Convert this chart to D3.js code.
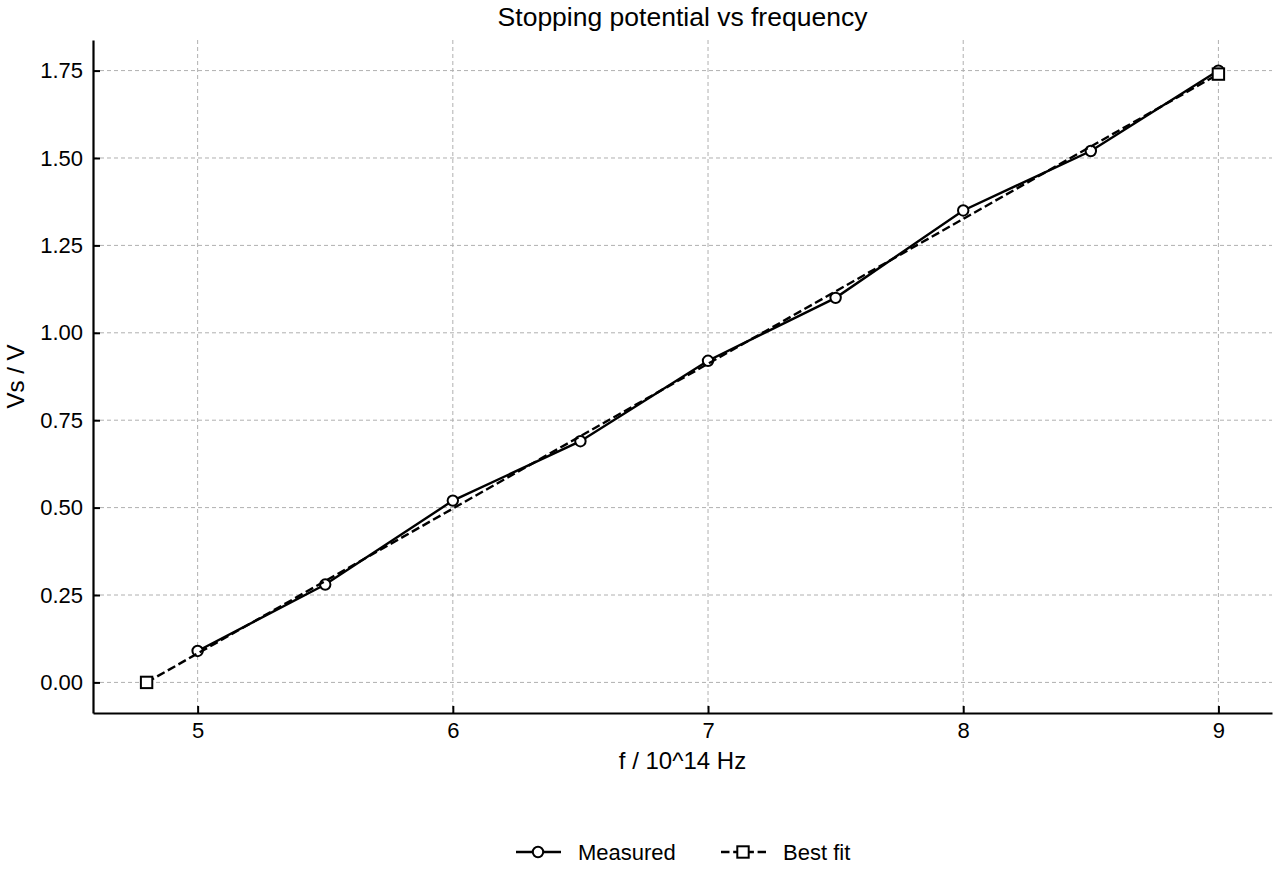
<!DOCTYPE html>
<html>
<head>
<meta charset="utf-8">
<script src="https://cdn.jsdelivr.net/npm/d3@7"></script>
<style>
  body { margin: 0; background: #fff; }
  svg { font-family: "Liberation Sans", Arial, sans-serif; }
</style>
</head>
<body>
<div id="wrapper"></div>
<script>
// measured points
const freq = [5, 5.5, 6, 6.5, 7, 7.5, 8, 8.5, 9];
const stopV = [0.09, 0.28, 0.52, 0.69, 0.92, 1.10, 1.35, 1.52, 1.75];
// best fit line endpoints
const fitFreq = [4.8, 9.0];
const fitV = [0.0, 1.74];
const xTicks = [5, 6, 7, 8, 9];
const yTicks = [0, 0.25, 0.5, 0.75, 1.0, 1.25, 1.5, 1.75];
const seriesNames = ["Measured", "Best fit"];

function drawChart() {
    let dimensions = {
        width: 1280,
        height: 880,
        margin: { top: 40, right: 8, bottom: 167, left: 93 },
    };
    dimensions.boundedWidth = dimensions.width - dimensions.margin.left - dimensions.margin.right;
    dimensions.boundedHeight = dimensions.height - dimensions.margin.top - dimensions.margin.bottom;

    const measured = freq.map((f, i) => ({ x: f, y: stopV[i] }));
    const fit = fitFreq.map((f, i) => ({ x: f, y: fitV[i] }));

    const wrapper = d3.select("#wrapper")
        .append("svg")
        .attr("width", dimensions.width)
        .attr("height", dimensions.height);

    const bounds = wrapper.append("g")
        .attr("transform", `translate(${dimensions.margin.left},${dimensions.margin.top})`);

    // domain with 5% padding, like matplotlib
    const allX = freq.concat(fitFreq);
    const allY = stopV.concat(fitV);
    const [x0, x1] = d3.extent(allX);
    const [y0, y1] = d3.extent(allY);
    const xPad = (x1 - x0) * 0.05, yPad = (y1 - y0) * 0.05;

    const xScale = d3.scaleLinear()
        .domain([x0 - xPad, x1 + xPad])
        .range([0, dimensions.boundedWidth]);
    const yScale = d3.scaleLinear()
        .domain([y0 - yPad, y1 + yPad])
        .range([dimensions.boundedHeight, 0]);

    // grid
    const grid = bounds.append("g")
        .attr("stroke", "#b0b0b0")
        .attr("stroke-width", 1)
        .attr("stroke-dasharray", "4,3");
    grid.selectAll(".gx").data(xTicks).join("line")
        .attr("x1", d => xScale(d)).attr("x2", d => xScale(d))
        .attr("y1", 0).attr("y2", dimensions.boundedHeight);
    grid.selectAll(".gy").data(yTicks).join("line")
        .attr("y1", d => yScale(d)).attr("y2", d => yScale(d))
        .attr("x1", 0).attr("x2", dimensions.boundedWidth);

    // axes, ticks pointing inward
    const xAxis = bounds.append("g")
        .attr("transform", `translate(0,${dimensions.boundedHeight})`)
        .call(d3.axisBottom(xScale).tickValues(xTicks).tickFormat(d3.format("d"))
            .tickSizeInner(-7).tickSizeOuter(0).tickPadding(9));
    const yAxis = bounds.append("g")
        .call(d3.axisLeft(yScale).tickValues(yTicks).tickFormat(d3.format(".2f"))
            .tickSizeInner(-7).tickSizeOuter(0).tickPadding(10));

    [xAxis, yAxis].forEach(ax => {
        ax.select(".domain").attr("stroke", "#000").attr("stroke-width", 2.2);
        ax.selectAll(".tick line").attr("stroke", "#000").attr("stroke-width", 2);
        ax.selectAll(".tick text").attr("fill", "#000").style("font-size", "22px")
            .style("font-family", "'Liberation Sans', Arial, sans-serif");
    });
    xAxis.selectAll(".tick text").attr("dy", "0.71em");

    const lineGenerator = d3.line()
        .x(d => xScale(d.x))
        .y(d => yScale(d.y));

    // measured
    bounds.append("path")
        .attr("d", lineGenerator(measured))
        .attr("fill", "none")
        .attr("stroke", "#000")
        .attr("stroke-width", 2.4);
    bounds.selectAll(".pt").data(measured).join("circle")
        .attr("cx", d => xScale(d.x))
        .attr("cy", d => yScale(d.y))
        .attr("r", 5.2)
        .attr("fill", "#fff")
        .attr("stroke", "#000")
        .attr("stroke-width", 2);

    // best fit
    bounds.append("path")
        .attr("d", lineGenerator(fit))
        .attr("fill", "none")
        .attr("stroke", "#000")
        .attr("stroke-width", 2.4)
        .attr("stroke-dasharray", "8.5,3.7");
    bounds.selectAll(".sq").data(fit).join("rect")
        .attr("x", d => xScale(d.x) - 5.7)
        .attr("y", d => yScale(d.y) - 5.7)
        .attr("width", 11.4)
        .attr("height", 11.4)
        .attr("fill", "#fff")
        .attr("stroke", "#000")
        .attr("stroke-width", 2);

    // title and labels
    wrapper.append("text")
        .attr("x", dimensions.margin.left + dimensions.boundedWidth / 2)
        .attr("y", 26)
        .attr("text-anchor", "middle")
        .style("font-size", "26.5px")
        .text("Stopping potential vs frequency");
    wrapper.append("text")
        .attr("x", dimensions.margin.left + dimensions.boundedWidth / 2)
        .attr("y", 769)
        .attr("text-anchor", "middle")
        .style("font-size", "24px")
        .text("f / 10^14 Hz");
    wrapper.append("text")
        .attr("transform", `translate(24,${dimensions.margin.top + dimensions.boundedHeight / 2}) rotate(-90)`)
        .attr("text-anchor", "middle")
        .style("font-size", "24px")
        .text("Vs / V");

    // legend
    const legend = wrapper.append("g").attr("transform", "translate(516,852)");
    const items = legend.selectAll("g").data(seriesNames).join("g")
        .attr("transform", (d, i) => `translate(${i * 205},0)`);
    items.append("line")
        .attr("x1", 0).attr("x2", 45).attr("y1", 0).attr("y2", 0)
        .attr("stroke", "#000").attr("stroke-width", 2.4)
        .attr("stroke-dasharray", (d, i) => i === 0 ? null : "8.5,3.7");
    items.each(function(d, i) {
        const g = d3.select(this);
        if (i === 0) {
            g.append("circle").attr("cx", 22).attr("cy", 0).attr("r", 5.2)
                .attr("fill", "#fff").attr("stroke", "#000").attr("stroke-width", 2);
        } else {
            g.append("rect").attr("x", 16.3).attr("y", -5.7).attr("width", 11.4).attr("height", 11.4)
                .attr("fill", "#fff").attr("stroke", "#000").attr("stroke-width", 2);
        }
    });
    items.append("text")
        .attr("x", 62).attr("y", 0).attr("dy", "0.35em")
        .style("font-size", "22px")
        .text(d => d);
}

drawChart();
</script>
</body>
</html>
